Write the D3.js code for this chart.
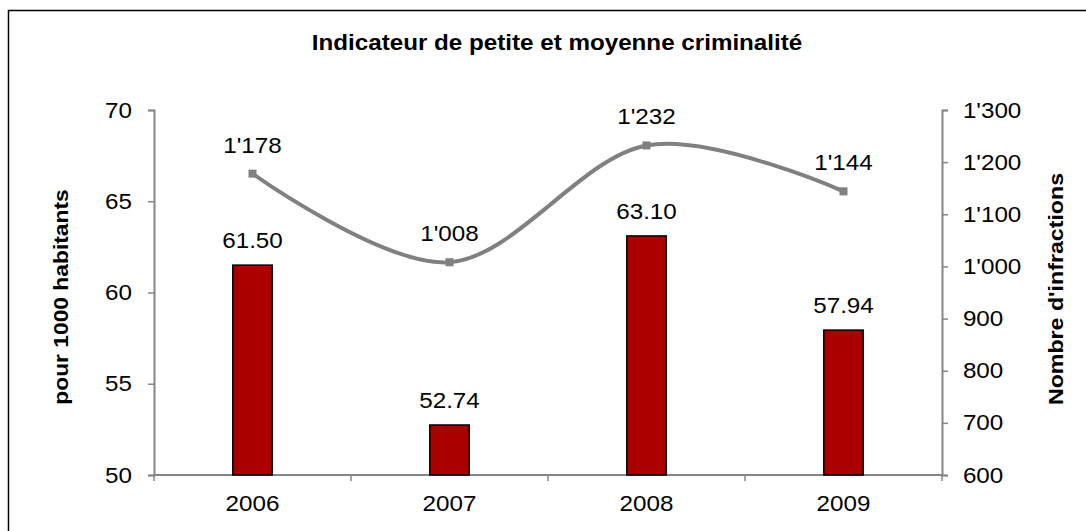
<!DOCTYPE html>
<html>
<head>
<meta charset="utf-8">
<script src="https://cdn.jsdelivr.net/npm/d3@7.9.0/dist/d3.min.js"></script>
<style>
  body { margin: 0; background: #fff; }
  svg { display: block; font-family: "Liberation Sans", Arial, sans-serif; }
</style>
</head>
<body>
<svg id="chart" width="1086" height="531"></svg>
<script>
// data
const years = ['2006', '2007', '2008', '2009'];
const rates = [61.50, 52.74, 63.10, 57.94];        // pour 1000 habitants (bars)
const offences = [1178, 1008, 1232, 1144];         // nombre d'infractions (line)
const leftTicks = [50, 55, 60, 65, 70];
const rightTicks = [600, 700, 800, 900, 1000, 1100, 1200, 1300];

const svg = d3.select('#chart');

// plot area
const plotLeft = 154, plotRight = 942, plotTop = 110, plotBottom = 475;
const axisColor = '#868686';
const numSize = '22px';
const stretch = 1.1; // glyphs in the picture are a bit wider than Liberation Sans

// frame of the chart (right and bottom edges fall outside the picture)
svg.append('rect')
  .attr('x', 8.5).attr('y', 10.5)
  .attr('width', 1200).attr('height', 600)
  .attr('fill', 'none').attr('stroke', '#000').attr('stroke-width', 1.5);

const x = d3.scaleBand().domain(years).range([plotLeft, plotRight])
  .paddingInner(0.8).paddingOuter(0.4);
const yL = d3.scaleLinear().domain([50, 70]).range([plotBottom, plotTop]);
const yR = d3.scaleLinear().domain([600, 1300]).range([plotBottom, plotTop]);

// thousands separator with apostrophe
const fmtThousands = (v) => d3.format(',')(v).replace(/,/g, "'");

// left axis
const gL = svg.append('g').attr('transform', `translate(${plotLeft},0)`)
  .call(d3.axisLeft(yL).tickValues(leftTicks).tickSize(6).tickPadding(14));
// right axis
const gR = svg.append('g').attr('transform', `translate(${plotRight},0)`)
  .call(d3.axisRight(yR).tickValues(rightTicks).tickSize(6).tickPadding(13)
    .tickFormat(fmtThousands));

[gL, gR].forEach((g) => {
  g.select('.domain').attr('stroke', axisColor).attr('stroke-width', 2);
  g.selectAll('.tick line').attr('stroke', axisColor).attr('stroke-width', 1.5);
  g.selectAll('.tick text').attr('fill', '#000')
    .attr('transform', `scale(${stretch},1)`)
    .style('font-size', numSize).style('font-family', '"Liberation Sans", Arial, sans-serif');
});

// bottom axis: ticks between categories
const boundaries = d3.range(years.length + 1).map((i) => plotLeft + i * (plotRight - plotLeft) / years.length);
svg.append('line')
  .attr('x1', plotLeft).attr('x2', plotRight).attr('y1', plotBottom).attr('y2', plotBottom)
  .attr('stroke', axisColor).attr('stroke-width', 2);
svg.selectAll('.xtick').data(boundaries).join('line')
  .attr('class', 'xtick')
  .attr('x1', (d) => d).attr('x2', (d) => d)
  .attr('y1', plotBottom).attr('y2', plotBottom + 6)
  .attr('stroke', axisColor).attr('stroke-width', 1.5);
svg.selectAll('.xlabel').data(years).join('text')
  .attr('class', 'xlabel')
  .attr('transform', (d) => `translate(${x(d) + x.bandwidth() / 2},511) scale(${stretch},1)`)
  .attr('text-anchor', 'middle')
  .style('font-size', numSize)
  .text((d) => d);

// bars
svg.selectAll('.bar').data(years).join('rect')
  .attr('class', 'bar')
  .attr('x', (d) => x(d))
  .attr('y', (d, i) => yL(rates[i]))
  .attr('width', x.bandwidth())
  .attr('height', (d, i) => yL(50) - yL(rates[i]))
  .attr('fill', '#AA0000')
  .attr('stroke', '#000')
  .attr('stroke-width', 1.5);

svg.selectAll('.barlabel').data(years).join('text')
  .attr('class', 'barlabel')
  .attr('transform', (d, i) =>
    `translate(${x(d) + x.bandwidth() / 2},${yL(rates[i]) - 17}) scale(${stretch},1)`)
  .attr('text-anchor', 'middle')
  .style('font-size', numSize)
  .text((d, i) => rates[i].toFixed(2));

// smoothed line
const pts = years.map((d, i) => [x(d) + x.bandwidth() / 2, yR(offences[i])]);
svg.append('path')
  .datum(pts)
  .attr('d', d3.line().curve(d3.curveCardinal.tension(0)))
  .attr('fill', 'none')
  .attr('stroke', '#808080')
  .attr('stroke-width', 4);

svg.selectAll('.marker').data(pts).join('rect')
  .attr('class', 'marker')
  .attr('x', (d) => d[0] - 4).attr('y', (d) => d[1] - 4)
  .attr('width', 8).attr('height', 8)
  .attr('fill', '#808080');

svg.selectAll('.linelabel').data(pts).join('text')
  .attr('class', 'linelabel')
  .attr('transform', (d) => `translate(${d[0]},${d[1] - 21}) scale(${stretch},1)`)
  .attr('text-anchor', 'middle')
  .style('font-size', numSize)
  .text((d, i) => fmtThousands(offences[i]));

// title
svg.append('text')
  .attr('transform', `translate(557,50) scale(${stretch},1)`)
  .attr('text-anchor', 'middle')
  .style('font-size', '22px').style('font-weight', 'bold')
  .text('Indicateur de petite et moyenne criminalité');

// axis titles
svg.append('text')
  .attr('transform', 'translate(68,297) rotate(-90) scale(1.14,1)')
  .attr('text-anchor', 'middle')
  .style('font-size', '20px').style('font-weight', 'bold')
  .text('pour 1000 habitants');

svg.append('text')
  .attr('transform', 'translate(1063,289) rotate(-90) scale(1.16,1)')
  .attr('text-anchor', 'middle')
  .style('font-size', '20px').style('font-weight', 'bold')
  .text("Nombre d'infractions");
</script>
</body>
</html>
